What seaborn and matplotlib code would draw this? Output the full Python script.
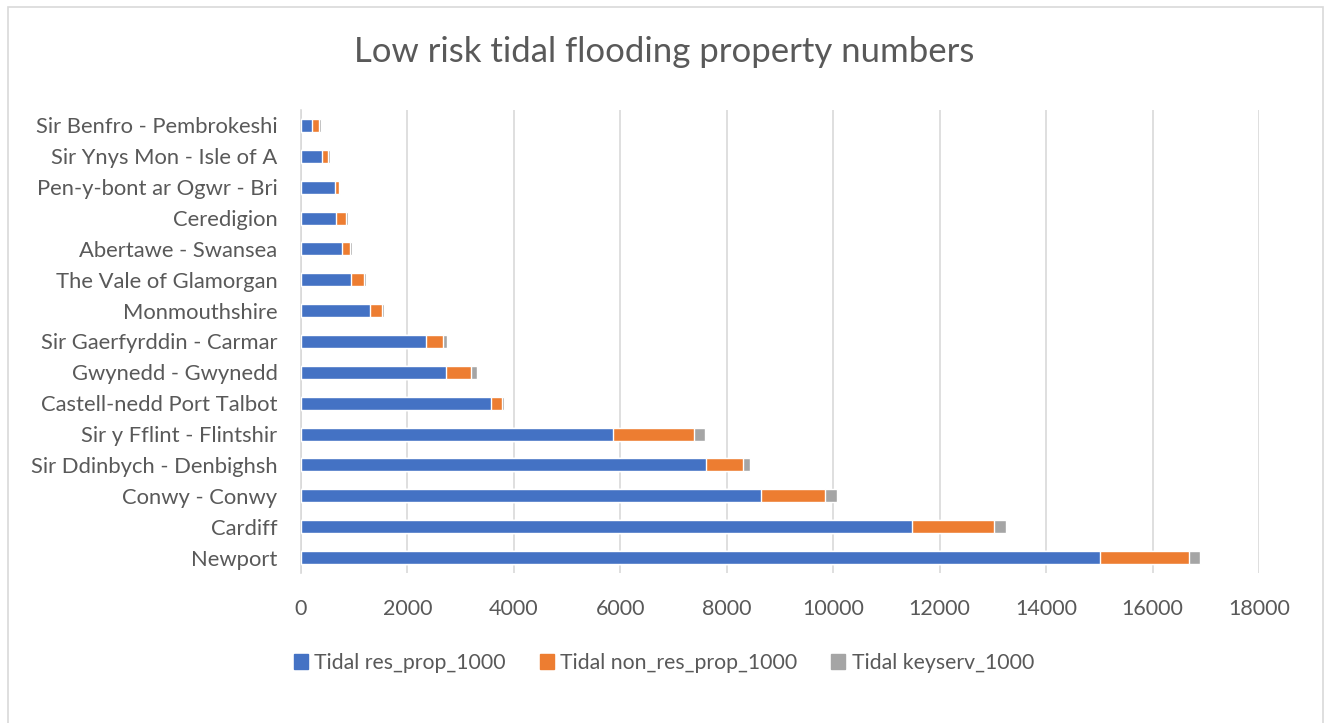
import numpy as np
import pandas as pd
import seaborn as sns
import matplotlib.pyplot as plt
from matplotlib.patches import Patch, Rectangle

areas = ['Sir Benfro - Pembrokeshi', 'Sir Ynys Mon - Isle of A', 'Pen-y-bont ar Ogwr - Bri',
         'Ceredigion', 'Abertawe - Swansea', 'The Vale of Glamorgan', 'Monmouthshire',
         'Sir Gaerfyrddin - Carmar', 'Gwynedd - Gwynedd', 'Castell-nedd Port Talbot',
         'Sir y Fflint - Flintshir', 'Sir Ddinbych - Denbighsh', 'Conwy - Conwy',
         'Cardiff', 'Newport']
res_prop = [205, 395, 640, 658, 770, 940, 1297, 2350, 2725, 3570, 5866, 7607, 8644, 11473, 15013]
non_res_prop = [140, 112, 80, 188, 150, 245, 225, 320, 470, 207, 1523, 694, 1197, 1540, 1673]
keyserv = [25, 38, 13, 37, 38, 38, 38, 75, 112, 38, 201, 134, 226, 242, 201]
xticks = [0, 2000, 4000, 6000, 8000, 10000, 12000, 14000, 16000, 18000]

names = ['Tidal res_prop_1000', 'Tidal non_res_prop_1000', 'Tidal keyserv_1000']
colors = ['#4472C4', '#ED7D31', '#A5A5A5']

df = pd.DataFrame({'area': areas, 'res': res_prop, 'nonres': non_res_prop, 'key': keyserv})
df['c1'] = df['res']
df['c2'] = df['res'] + df['nonres']
df['c3'] = df['c2'] + df['key']

sns.set_style('white')
plt.rcParams['font.family'] = ['Lato', 'DejaVu Sans']
txt = '#595959'

fig = plt.figure(figsize=(13.28, 7.23), dpi=100)
ax = fig.add_axes([301/1328, 1-573/723, 958/1328, 463/723])

for col, c in zip(['c3', 'c2', 'c1'], colors[::-1]):
    sns.barplot(data=df, x=col, y='area', order=areas, color=c, width=0.42,
                saturation=1, ax=ax, zorder=3)

ax.set_xlim(0, 18000)
ax.set_ylim(len(areas) - 0.5, -0.5)
ax.set_xticks(xticks)
ax.set_xlabel('')
ax.set_ylabel('')
ax.grid(axis='x', color='#D9D9D9', lw=1.2, zorder=0)
ax.grid(axis='y', visible=False)
for s in ['top', 'right', 'bottom']:
    ax.spines[s].set_visible(False)
ax.spines['left'].set_color('#D9D9D9')
ax.spines['left'].set_linewidth(1.2)
ax.tick_params(axis='x', length=0, pad=19, labelsize=15.5, labelcolor=txt)
ax.tick_params(axis='y', length=0, pad=17, labelsize=15.8, labelcolor=txt)

fig.text(0.5, 1-52/723, 'Low risk tidal flooding property numbers', ha='center', va='center',
         fontsize=25, color=txt)

handles = [Patch(color=c, label=n) for c, n in zip(colors, names)]
fig.legend(handles=handles, loc='center', bbox_to_anchor=(0.5, 1-663/723), ncol=3,
           frameon=False, fontsize=15.3, labelcolor=txt, handlelength=0.65, handleheight=0.65,
           handletextpad=0.3, columnspacing=1.6)

fig.patches.append(Rectangle((8/1328, -0.01), 1315/1328, 1-7/723 + 0.01, transform=fig.transFigure,
                             fill=False, edgecolor='#D9D9D9', lw=1.2))

fig.savefig('out.png', dpi=100)
